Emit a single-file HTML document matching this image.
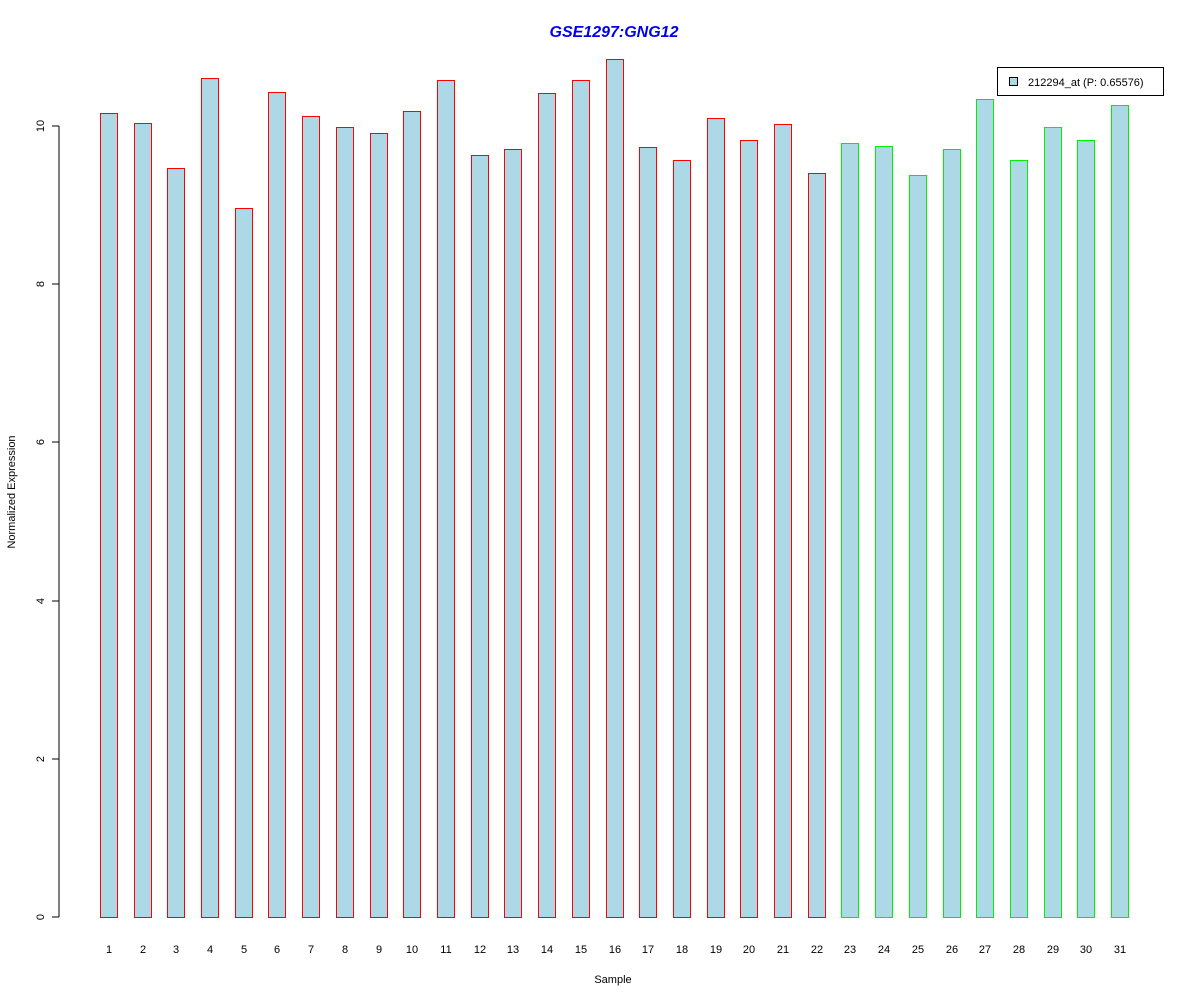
<!DOCTYPE html>
<html><head><meta charset="utf-8"><style>body{margin:0;background:#fff}svg{display:block}text{font-family:"Liberation Sans",Arial,sans-serif}</style></head>
<body>
<svg width="1200" height="1000" xmlns="http://www.w3.org/2000/svg">
<rect width="1200" height="1000" fill="#fff"/>
<text x="614" y="37" text-anchor="middle" font-size="16" font-weight="bold" font-style="italic" fill="#0000ee">GSE1297:GNG12</text>
<g shape-rendering="crispEdges">
<line x1="59" y1="126" x2="59" y2="917" stroke="#000"/>
<g stroke="#000">
<line x1="52" y1="917" x2="59" y2="917"/><line x1="52" y1="759" x2="59" y2="759"/><line x1="52" y1="601" x2="59" y2="601"/><line x1="52" y1="442" x2="59" y2="442"/><line x1="52" y1="284" x2="59" y2="284"/><line x1="52" y1="126" x2="59" y2="126"/>
</g>
</g>
<g font-size="11" text-anchor="middle">
<text transform="translate(44,917) rotate(-90)">0</text>
<text transform="translate(44,759) rotate(-90)">2</text>
<text transform="translate(44,601) rotate(-90)">4</text>
<text transform="translate(44,442) rotate(-90)">6</text>
<text transform="translate(44,284) rotate(-90)">8</text>
<text transform="translate(44,126) rotate(-90)">10</text>
<text transform="translate(15,492) rotate(-90)">Normalized Expression</text>
<text x="613" y="983">Sample</text>
</g>
<g fill="#add8e6" stroke="#ff0000" shape-rendering="crispEdges">
<rect x="100.5" y="113.5" width="17" height="804"/>
<rect x="134.5" y="123.5" width="17" height="794"/>
<rect x="167.5" y="168.5" width="17" height="749"/>
<rect x="201.5" y="78.5" width="17" height="839"/>
<rect x="235.5" y="208.5" width="17" height="709"/>
<rect x="268.5" y="92.5" width="17" height="825"/>
<rect x="302.5" y="116.5" width="17" height="801"/>
<rect x="336.5" y="127.5" width="17" height="790"/>
<rect x="370.5" y="133.5" width="17" height="784"/>
<rect x="403.5" y="111.5" width="17" height="806"/>
<rect x="437.5" y="80.5" width="17" height="837"/>
<rect x="471.5" y="155.5" width="17" height="762"/>
<rect x="504.5" y="149.5" width="17" height="768"/>
<rect x="538.5" y="93.5" width="17" height="824"/>
<rect x="572.5" y="80.5" width="17" height="837"/>
<rect x="606.5" y="59.5" width="17" height="858"/>
<rect x="639.5" y="147.5" width="17" height="770"/>
<rect x="673.5" y="160.5" width="17" height="757"/>
<rect x="707.5" y="118.5" width="17" height="799"/>
<rect x="740.5" y="140.5" width="17" height="777"/>
<rect x="774.5" y="124.5" width="17" height="793"/>
<rect x="808.5" y="173.5" width="17" height="744"/>
</g>
<g fill="#add8e6" stroke="#00ee00" shape-rendering="crispEdges">
<rect x="841.5" y="143.5" width="17" height="774"/>
<rect x="875.5" y="146.5" width="17" height="771"/>
<rect x="909.5" y="175.5" width="17" height="742"/>
<rect x="943.5" y="149.5" width="17" height="768"/>
<rect x="976.5" y="99.5" width="17" height="818"/>
<rect x="1010.5" y="160.5" width="17" height="757"/>
<rect x="1044.5" y="127.5" width="17" height="790"/>
<rect x="1077.5" y="140.5" width="17" height="777"/>
<rect x="1111.5" y="105.5" width="17" height="812"/>
</g>
<g font-size="11" text-anchor="middle">
<text x="109" y="953">1</text><text x="143" y="953">2</text><text x="176" y="953">3</text><text x="210" y="953">4</text><text x="244" y="953">5</text><text x="277" y="953">6</text><text x="311" y="953">7</text><text x="345" y="953">8</text><text x="379" y="953">9</text><text x="412" y="953">10</text><text x="446" y="953">11</text><text x="480" y="953">12</text><text x="513" y="953">13</text><text x="547" y="953">14</text><text x="581" y="953">15</text><text x="615" y="953">16</text><text x="648" y="953">17</text><text x="682" y="953">18</text><text x="716" y="953">19</text><text x="749" y="953">20</text><text x="783" y="953">21</text><text x="817" y="953">22</text><text x="850" y="953">23</text><text x="884" y="953">24</text><text x="918" y="953">25</text><text x="952" y="953">26</text><text x="985" y="953">27</text><text x="1019" y="953">28</text><text x="1053" y="953">29</text><text x="1086" y="953">30</text><text x="1120" y="953">31</text>
</g>
<rect x="997.5" y="67.5" width="166" height="28" fill="#fff" stroke="#000" shape-rendering="crispEdges"/>
<rect x="1009.5" y="77.5" width="8" height="8" fill="#add8e6" stroke="#000" shape-rendering="crispEdges"/>
<text x="1028" y="86" font-size="11">212294_at (P: 0.65576)</text>
</svg>
</body></html>
